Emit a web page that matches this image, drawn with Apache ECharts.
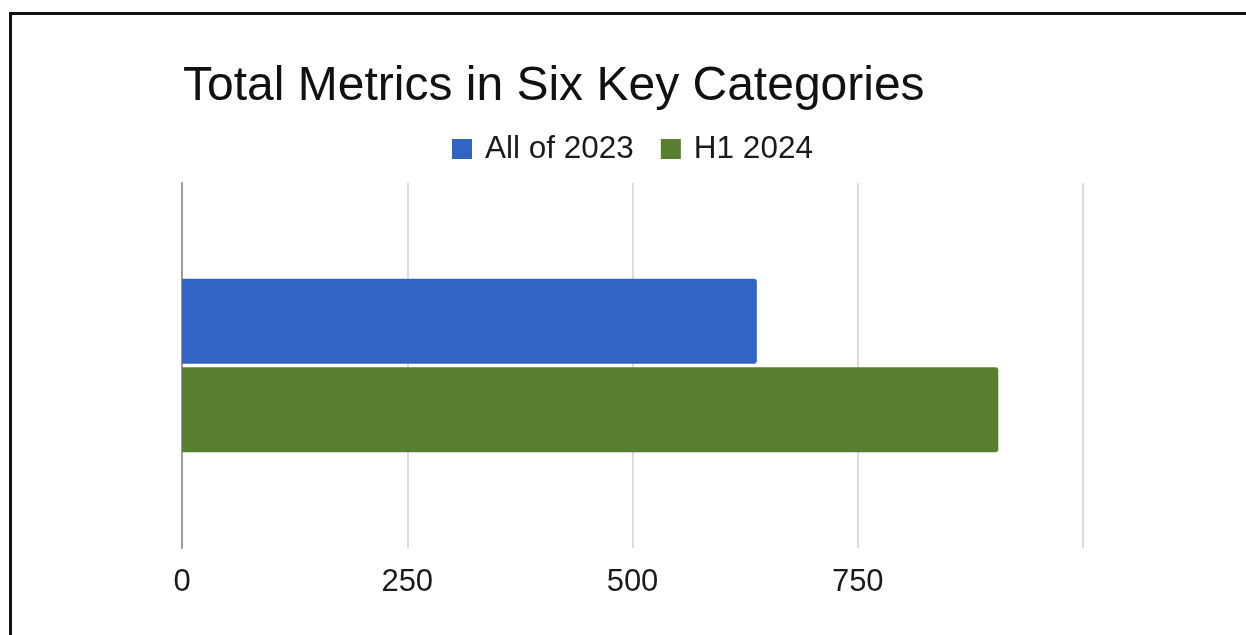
<!DOCTYPE html>
<html>
<head>
<meta charset="utf-8">
<script src="https://cdn.jsdelivr.net/npm/echarts@6/dist/echarts.min.js"></script>
<style>
  html, body { margin: 0; padding: 0; background: #fff; overflow: hidden; }
  #chart { width: 1246px; height: 635px; position: absolute; left: 0; top: 0; }
  #frame {
    position: absolute; left: 9px; top: 12px; right: -20px; bottom: -20px;
    border: 3px solid #111; pointer-events: none;
  }
</style>
</head>
<body>
<div id="chart"></div>
<div id="frame"></div>
<script>
// data
const categories = ['Total'];
const seriesNames = ['All of 2023', 'H1 2024'];
const values2023 = [638];
const valuesH12024 = [906];
const tickLabels = ['0', '250', '500', '750', ''];

const colors = ['#3264c4', '#587f30']; // blue, green

const myChart = echarts.init(document.getElementById('chart'));
const font = '"Liberation Sans", Arial, sans-serif';

const option = {
  animation: false,
  title: {
    text: 'Total Metrics in Six Key Categories',
    left: 178,
    top: 58,
    textStyle: { fontFamily: font, fontSize: 48, fontWeight: 'normal', color: '#111' },
  },
  legend: {
    data: seriesNames,
    left: 447,
    top: 128,
    itemWidth: 20,
    itemHeight: 20,
    itemGap: 27,
    icon: 'rect',
    textStyle: { fontFamily: font, fontSize: 31.5, color: '#1a1a1a', padding: [0, 0, 0, 8] },
  },
  grid: { left: 182, right: 163, top: 183, bottom: 87, containLabel: false },
  xAxis: {
    type: 'value',
    min: 0,
    max: 1000,
    interval: 250,
    axisLine: { show: false },
    axisTick: { show: false },
    splitLine: { show: true, lineStyle: { color: '#d0d0d0', width: 1.5 } },
    axisLabel: {
      margin: 19,
      fontFamily: font,
      fontSize: 31,
      color: '#1a1a1a',
      formatter: (v) => tickLabels[Math.round(v / 250)] ?? '',
    },
  },
  yAxis: {
    type: 'category',
    data: categories,
    axisLine: { show: true, lineStyle: { color: '#9a9a9a', width: 2 } },
    axisTick: { show: false },
    axisLabel: { show: false },
  },
  series: [
    {
      name: seriesNames[0],
      type: 'bar',
      data: values2023,
      barWidth: 85,
      barGap: '4%',
      itemStyle: { color: colors[0], borderRadius: [0, 3, 3, 0] },
    },
    {
      name: seriesNames[1],
      type: 'bar',
      data: valuesH12024,
      barWidth: 85,
      barGap: '4%',
      itemStyle: { color: colors[1], borderRadius: [0, 3, 3, 0] },
    },
  ],
};
myChart.setOption(option);
</script>
</body>
</html>
